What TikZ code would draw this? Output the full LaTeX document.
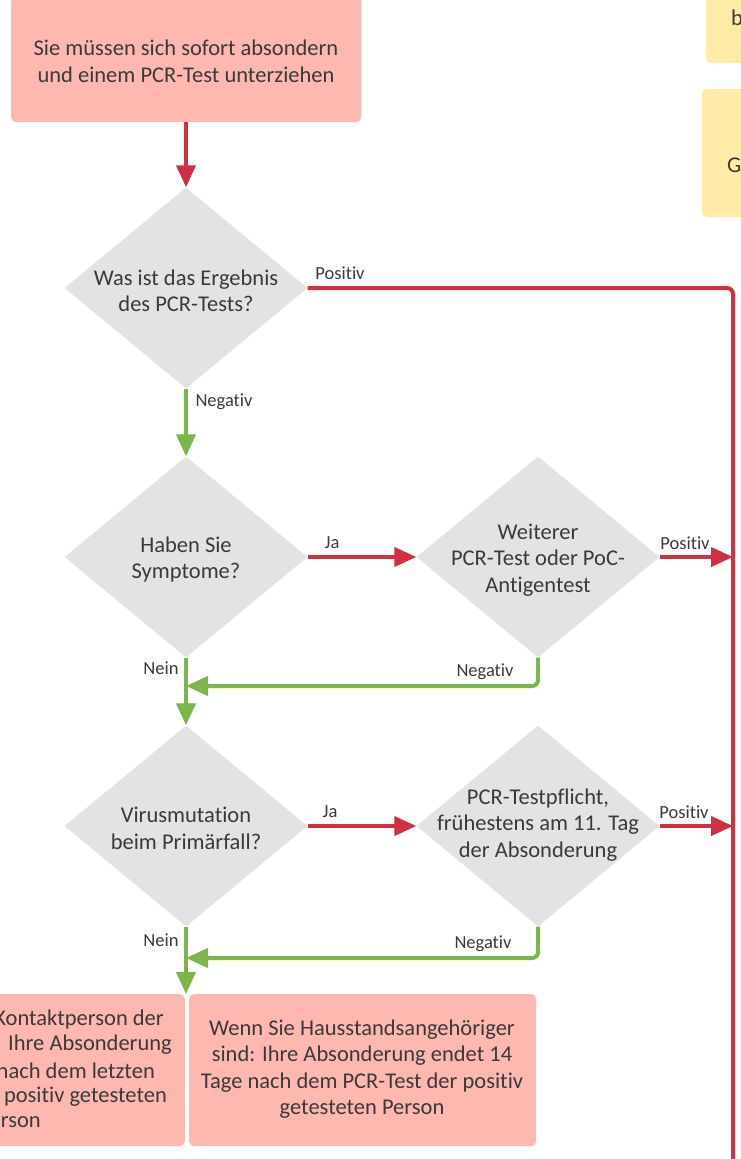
\documentclass[tikz,border=0pt]{standalone}
\usepackage{fontspec}
\setmainfont{Carlito}[Ligatures=NoCommon]
\usetikzlibrary{shapes.geometric,arrows.meta}
\definecolor{boxpink}{HTML}{FFB8B0}
\definecolor{redline}{HTML}{D0303F}
\definecolor{greenline}{HTML}{7AB648}
\definecolor{diagray}{HTML}{E3E3E3}
\definecolor{yel}{HTML}{FFEAA6}
\definecolor{txt}{HTML}{3A3A3A}
\tikzset{
  dia/.style={diamond,fill=diagray,draw=none,minimum width=243pt,minimum height=201pt,inner sep=0pt},
  body/.style={text=txt,font=\fontsize{22.5}{26.5}\selectfont,align=center,inner sep=0pt},
  lbl/.style={text=txt,font=\fontsize{18.5}{21}\selectfont,inner sep=0pt},
  redarr/.style={draw=redline,line width=4pt,-{Triangle[length=22pt,width=19pt]}},
  redln/.style={draw=redline,line width=4pt,rounded corners=6pt},
  grnarr/.style={draw=greenline,line width=4pt,rounded corners=6pt,-{Triangle[length=22pt,width=19pt]}},
  pinkbox/.style={fill=boxpink,rounded corners=5pt,draw=none},
  yelbox/.style={fill=yel,rounded corners=5pt,draw=none}
}
\begin{document}
\begin{tikzpicture}[x=1pt,y=-1pt]
\useasboundingbox (0,0) rectangle (740,1159);
% yellow cut-off boxes
\fill[yelbox] (706,-8) rectangle (760,63);
\node[body,anchor=base west] (yb) at (731,25.5) {b};
\fill[yelbox] (702,89) rectangle (760,217);
\node[body,anchor=base west] (yg) at (727,172.5) {G};
% top box
\node[pinkbox,minimum width=350pt,minimum height=126pt,anchor=north west] (start) at (11,-4) {};
\node[body] (starttxt) at (186,61.5) {Sie müssen sich sofort absondern\\und einem PCR-Test unterziehen};
% diamonds
\node[dia] (d1) at (186,288) {};
\node[body] at (186,291) {Was ist das Ergebnis\\des PCR-Tests?};
\node[dia] (d2) at (186,557) {};
\node[body] at (186,559.5) {Haben Sie\\Symptome?};
\node[dia] (d3) at (538,557) {};
\node[body] at (538,560) {Weiterer\\PCR-Test oder PoC-\\Antigentest};
\node[dia] (d4) at (186,826) {};
\node[body] at (186,828.5) {Virusmutation\\beim Primärfall?};
\node[dia] (d5) at (538,826) {};
\node[body] at (538,825) {PCR-Testpflicht,\\frühestens am 11. Tag\\der Absonderung};
% bottom boxes
\node[pinkbox,minimum width=200pt,minimum height=152pt,anchor=north east] (bl) at (185,994) {};
\node[pinkbox,minimum width=347pt,minimum height=152pt,anchor=north west] (br) at (189,994) {};
\node[body] (brtxt) at (362,1069) {Wenn Sie Hausstandsangehöriger\\sind: Ihre Absonderung endet 14\\Tage nach dem PCR-Test der positiv\\getesteten Person};
\node[body,anchor=east] (bl1) at (164,1019) {Kontaktperson der};
\node[body,anchor=east] (bl2) at (172,1045) {: Ihre Absonderung};
\node[body,anchor=east] (bl3) at (155,1071) {nach dem letzten};
\node[body,anchor=east] (bl4) at (167,1097) {positiv getesteten};
\node[body,anchor=east] (bl5) at (41,1122) {erson};
% coordinates
\coordinate (rtop) at (733,288);
\coordinate (rbot) at (733,1170);
\coordinate (r1) at (733,557);
\coordinate (r2) at (733,826);
\coordinate (g1) at (538,686);
\coordinate (g1e) at (186,686);
\coordinate (g2) at (538,958);
\coordinate (g2e) at (186,958);
% connectors
\draw[redarr] (start.south -| d1.north) -- (d1.north);
\draw[redln] (d1.east) -- (rtop) -- (rbot);
\draw[grnarr] (d1.south) -- (d2.north);
\draw[redarr] (d2.east) -- (d3.west);
\draw[redarr] (d3.east) -- (r1);
\draw[grnarr] (d3.south) -- (g1) -- (g1e);
\draw[grnarr] (d2.south) -- (d4.north);
\draw[redarr] (d4.east) -- (d5.west);
\draw[redarr] (d5.east) -- (r2);
\draw[grnarr] (d5.south) -- (g2) -- (g2e);
\draw[grnarr] (d4.south) -- (br.north -| d4.south);
% labels
\node[lbl] (lp1) at (340,273) {Positiv};
\node[lbl] (ln1) at (224,402) {Negativ};
\node[lbl] (lj1) at (332,543) {Ja};
\node[lbl] (lp2) at (685,543) {Positiv};
\node[lbl] (ln2) at (485,672) {Negativ};
\node[lbl] (le1) at (161,668) {Nein};
\node[lbl] (lj2) at (330,812) {Ja};
\node[lbl] (lp3) at (684,812) {Positiv};
\node[lbl] (ln3) at (483,944) {Negativ};
\node[lbl] (le2) at (161,940) {Nein};
\end{tikzpicture}
\end{document}
